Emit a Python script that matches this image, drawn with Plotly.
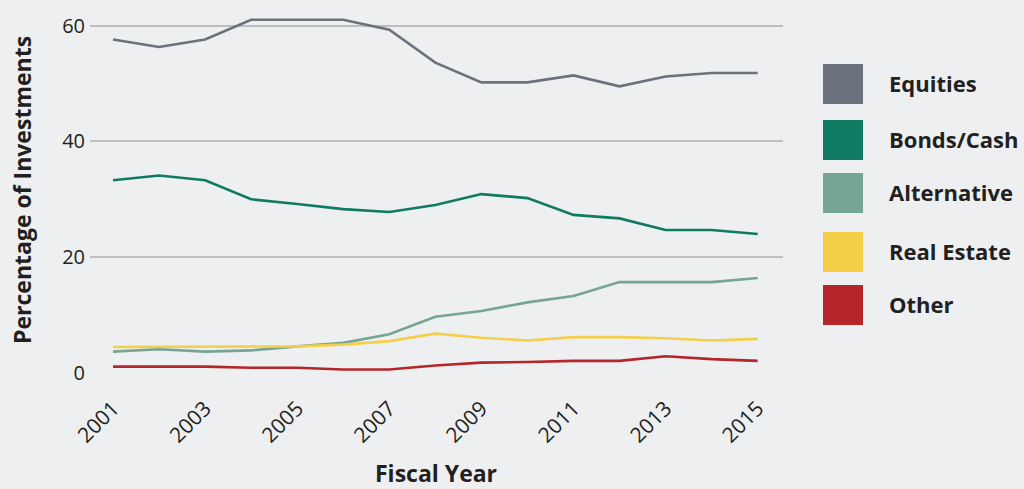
import plotly.graph_objects as go

years = list(range(2001, 2016))
series_names = ["Equities", "Bonds/Cash", "Alternative", "Real Estate", "Other"]
equities = [57.6, 56.3, 57.6, 61.0, 61.0, 61.0, 59.3, 53.6, 50.2, 50.2, 51.4, 49.5, 51.2, 51.8, 51.8]
bonds_cash = [33.3, 34.1, 33.3, 30.0, 29.2, 28.3, 27.8, 29.0, 30.9, 30.2, 27.3, 26.7, 24.7, 24.7, 24.0]
alternative = [3.7, 4.1, 3.7, 3.9, 4.6, 5.2, 6.7, 9.7, 10.7, 12.2, 13.3, 15.7, 15.7, 15.7, 16.4]
real_estate = [4.5, 4.5, 4.5, 4.5, 4.6, 4.9, 5.5, 6.8, 6.1, 5.6, 6.2, 6.2, 6.0, 5.6, 5.9]
other = [1.1, 1.1, 1.1, 0.9, 0.9, 0.6, 0.6, 1.3, 1.8, 1.9, 2.1, 2.1, 2.9, 2.4, 2.1]
colors = ["#6b727d", "#0e7b62", "#76a594", "#f4cf4a", "#b5262a"]
y_ticks = [0, 20, 40, 60]
x_ticks = [2001, 2003, 2005, 2007, 2009, 2011, 2013, 2015]
x_title = "Fiscal Year"
y_title = "Percentage of Investments"

all_series = [equities, bonds_cash, alternative, real_estate, other]
bg = "#eeeff1"
font_family = "'Open Sans', sans-serif"
txt = "#231f20"

fig = go.Figure()
for name, vals, col in zip(series_names, all_series, colors):
    fig.add_trace(go.Scatter(x=years, y=vals, mode="lines", name=name,
                             line=dict(color=col, width=2.6), showlegend=False))

W, H = 1024, 489
ml, mr, mt, mb = 90, 241, 14, 116
pw, ph = W - ml - mr, H - mt - mb

def px_to_paper_x(px):
    return (px - ml) / pw

def px_to_paper_y(py):
    return (H - mb - py) / ph

shapes = []
annotations = []
legend_tops = [64, 120, 173, 232, 285]
for name, col, top in zip(series_names, colors, legend_tops):
    shapes.append(dict(type="rect", xref="paper", yref="paper",
                       x0=px_to_paper_x(823), x1=px_to_paper_x(863),
                       y0=px_to_paper_y(top + 40), y1=px_to_paper_y(top),
                       fillcolor=col, line=dict(width=0)))
    annotations.append(dict(xref="paper", yref="paper", x=px_to_paper_x(887),
                            y=px_to_paper_y(top + 19), text="<b>" + name + "</b>",
                            showarrow=False, xanchor="left", yanchor="middle",
                            font=dict(family=font_family, size=22, color=txt)))

annotations.append(dict(xref="paper", yref="paper", x=px_to_paper_x(436),
                        y=px_to_paper_y(473), text="<b>" + x_title + "</b>",
                        showarrow=False, xanchor="center", yanchor="middle",
                        font=dict(family=font_family, size=23, color=txt)))
annotations.append(dict(xref="paper", yref="paper", x=px_to_paper_x(22),
                        y=px_to_paper_y(190), text="<b>" + y_title + "</b>",
                        showarrow=False, xanchor="center", yanchor="middle", textangle=-90,
                        font=dict(family=font_family, size=23, color=txt)))

fig.update_layout(
    width=W, height=H,
    margin=dict(l=ml, r=mr, t=mt, b=mb),
    paper_bgcolor=bg, plot_bgcolor=bg,
    showlegend=False,
    shapes=shapes,
    annotations=annotations,
    font=dict(family=font_family, color=txt),
)
fig.update_xaxes(
    range=[2000.5, 2015.55], tickvals=x_ticks, ticktext=[str(t) for t in x_ticks],
    tickangle=-45, tickfont=dict(size=21, color=txt), showgrid=False,
    zeroline=False, showline=False, ticks="outside", ticklen=14, tickcolor=bg,
    automargin=False,
)
fig.update_yaxes(
    range=[0, 62], tickvals=y_ticks, tickfont=dict(size=20, color=txt),
    showgrid=True, gridcolor="#bdbec0", gridwidth=1.5, zeroline=False, showline=False,
    ticks="", ticklabelstandoff=4, automargin=False,
)

fig.write_html("out.html")
